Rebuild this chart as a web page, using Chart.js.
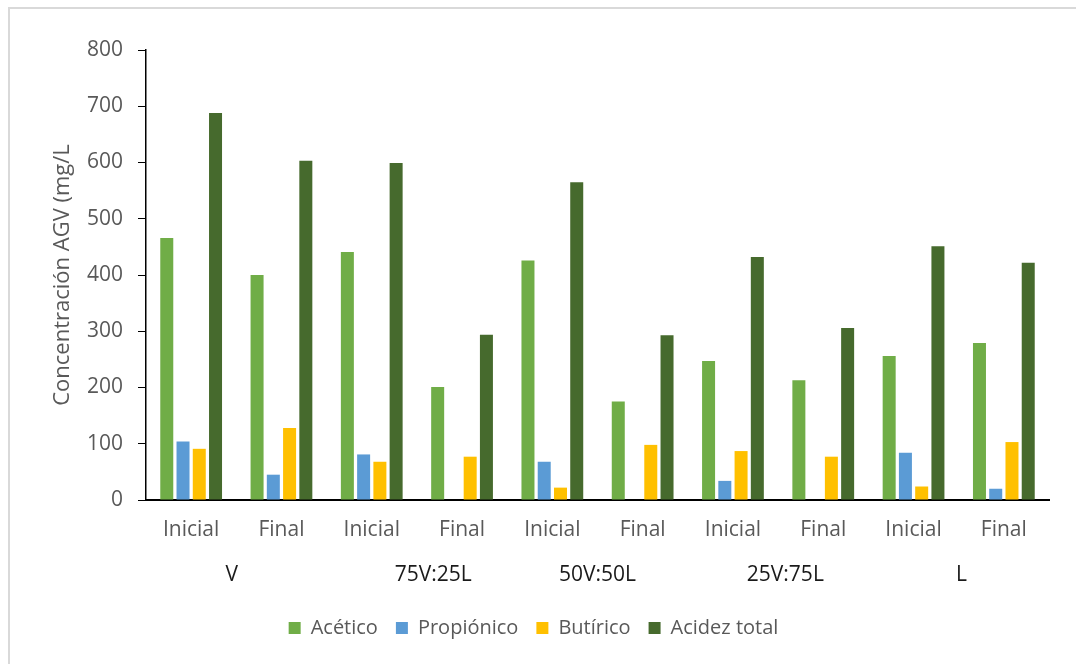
<!DOCTYPE html>
<html lang="es">
  <head>
    <meta charset="utf-8" />
    <title>Concentración AGV</title>
    <style>
      body { margin: 0; background: #fff; }
      .wrap { position: relative; width: 1076px; height: 664px; }
      .frame {
        position: absolute; left: 8px; top: 7px; right: 0; bottom: 0;
        border-top: 2px solid #d9d9d9; border-left: 2px solid #d9d9d9;
      }
      canvas { position: absolute; left: 0; top: 0; }
    </style>
  </head>
  <body>
    <div class="wrap">
      <div class="frame"></div>
      <canvas id="bar-chart" width="1076" height="664"></canvas>
    </div>

    <script src="https://cdn.jsdelivr.net/npm/chart.js@4.4.0/dist/chart.umd.min.js"></script>
    <script>
      const categories = ["Inicial", "Final", "Inicial", "Final", "Inicial", "Final", "Inicial", "Final", "Inicial", "Final"];
      const groups = ["V", "75V:25L", "50V:50L", "25V:75L", "L"];

      const acetico = [466, 400, 441, 201, 426, 175, 247, 213, 256, 279];
      const propionico = [104, 45, 81, 0, 68, 0, 34, 0, 84, 20];
      const butirico = [91, 128, 68, 77, 22, 98, 87, 77, 24, 103];
      const acidezTotal = [688, 603, 599, 294, 565, 293, 432, 306, 451, 422];

      const FONT = "'Open Sans', 'Noto Sans', sans-serif";
      const GRAY = "#595959";

      // group names sit under the tick labels, where Excel left them (not quite centred)
      const groupAt = [0.45, 2.68, 4.5, 6.58, 8.53];
      const groupLabels = {
        id: "groupLabels",
        afterLayout(chart) {
          // legend in the original is centred on the whole frame, not the plot
          chart.legend.left -= 14;
          chart.legend.right -= 14;
        },
        afterDraw(chart) {
          const ctx = chart.ctx;
          const x = chart.scales.x;
          ctx.save();
          ctx.font = "21px " + FONT;
          ctx.fillStyle = "#1a1a1a";
          ctx.textAlign = "center";
          ctx.textBaseline = "middle";
          groups.forEach((g, i) => {
            ctx.fillText(g, x.getPixelForValue(groupAt[i]), x.top + 75);
          });
          ctx.restore();
        },
      };

      new Chart(document.getElementById("bar-chart"), {
        type: "bar",
        data: {
          labels: categories,
          datasets: [
            { label: "Acético", data: acetico, backgroundColor: "#70ad47" },
            { label: "Propiónico", data: propionico, backgroundColor: "#5b9bd5" },
            { label: "Butírico", data: butirico, backgroundColor: "#ffc000" },
            { label: "Acidez total", data: acidezTotal, backgroundColor: "#466a2d" },
          ],
        },
        options: {
          responsive: false,
          animation: false,
          categoryPercentage: 0.72,
          barPercentage: 0.8,
          layout: { padding: { left: 46, right: 27, top: 50, bottom: 16 } },
          plugins: {
            tooltip: { enabled: false },
            legend: {
              position: "bottom",
              labels: {
                boxWidth: 12,
                boxHeight: 12,
                padding: 18,
                color: GRAY,
                font: { family: FONT, size: 20 },
              },
            },
          },
          scales: {
            x: {
              grid: { display: false, drawTicks: false },
              border: { display: true, color: "#000", width: 2 },
              ticks: { color: GRAY, padding: 17, font: { family: FONT, size: 21 }, maxRotation: 0 },
              afterFit: (s) => { s.height = 100; },
            },
            y: {
              min: 0,
              max: 800,
              ticks: { stepSize: 100, color: GRAY, padding: 15, font: { family: FONT, size: 21 } },
              grid: { drawOnChartArea: false, drawTicks: true, tickLength: 8, color: "#000", lineWidth: 1 },
              border: { display: true, color: "#000", width: 1.5 },
              title: {
                display: true,
                text: "Concentración AGV (mg/L",
                color: GRAY,
                font: { family: FONT, size: 22 },
              },
              afterFit: (s) => { s.width = 100; },
            },
          },
        },
        plugins: [groupLabels],
      });
    </script>
  </body>
</html>
